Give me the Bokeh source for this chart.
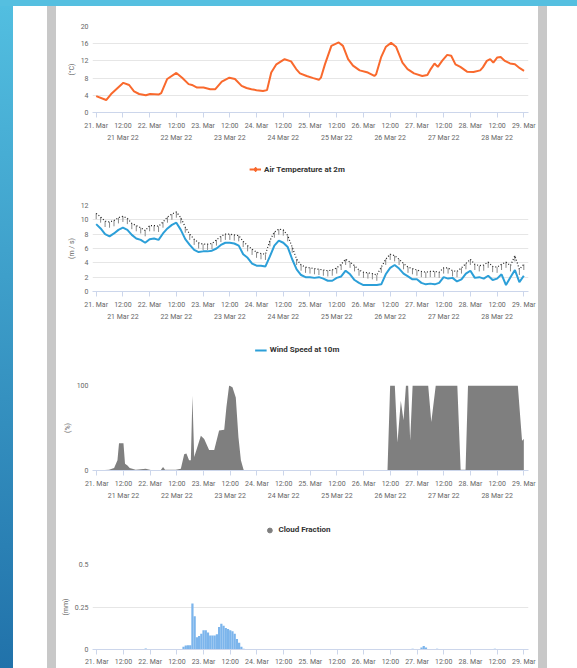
import numpy as np
from bokeh.plotting import figure
from bokeh.models import Range1d, FixedTicker, LinearAxis, Legend, LegendItem, Spacer
from bokeh.layouts import column, row
from bokeh.embed import file_html
from bokeh.resources import INLINE

FONT = "Roboto"
LABEL_COLOR = "#666666"

# ---------------- x axis labels (hours since 21 Mar 2022 00:00) ----------------
tick_hours = list(range(0, 193, 12))
tick_labels = ["21. Mar", "12:00", "22. Mar", "12:00", "23. Mar", "12:00", "24. Mar", "12:00",
               "25. Mar", "12:00", "26. Mar", "12:00", "27. Mar", "12:00", "28. Mar", "12:00", "29. Mar"]
date_hours = [12, 36, 60, 84, 108, 132, 156, 180]
date_labels = ["21 Mar 22", "22 Mar 22", "23 Mar 22", "24 Mar 22",
               "25 Mar 22", "26 Mar 22", "27 Mar 22", "28 Mar 22"]

# ---------------- Air temperature at 2m (°C) ----------------
temp_hours = [0, 4.5, 6.7, 12.2, 14.8, 17, 19.3, 22.3, 24.2, 28.2, 29.2, 31.9, 36, 38.6, 41.5, 43,
              45.3, 48.2, 51.2, 53.4, 56.4, 59.8, 62.3, 65.3, 67.5, 69.7, 72, 74.9, 76.7, 78.6, 80.9,
              84.6, 87.5, 89.8, 91.5, 94.5, 97.5, 100, 100.9, 102.7, 105.6, 108.9, 110.8, 113.1, 115.3,
              118.3, 122, 124.9, 125.7, 127.9, 130.1, 132.4, 134.6, 137.5, 139.8, 142.7, 146.4, 148.7,
              150.2, 151.9, 153.4, 155.3, 157.6, 159.4, 161.3, 163.5, 166.5, 169.4, 172.4, 173.6, 175.4,
              176.9, 178.3, 180.1, 181.6, 183.5, 185.8, 188, 190.2, 192.1]
temp_vals = [3.8, 2.9, 4.3, 6.9, 6.4, 4.9, 4.3, 4.0, 4.3, 4.2, 4.5, 7.8, 9.2, 8.1, 6.6, 6.4,
             5.8, 5.8, 5.4, 5.4, 7.2, 8.1, 7.8, 6.2, 5.7, 5.4, 5.2, 5.0, 5.2, 9.3, 11.2,
             12.4, 11.9, 10.1, 9.1, 8.5, 8.0, 7.6, 8.1, 11.2, 15.5, 16.3, 15.5, 12.4, 10.9,
             9.8, 9.3, 8.5, 8.9, 12.8, 15.3, 16.2, 15.3, 11.6, 10.1, 9.1, 8.5, 8.7,
             10.1, 11.4, 10.6, 12.0, 13.4, 13.2, 11.2, 10.6, 9.5, 9.4, 9.8, 10.5, 12.0,
             12.4, 11.6, 12.8, 12.9, 12.0, 11.4, 11.2, 10.3, 9.7]

# ---------------- Wind speed at 10m and gusts (m/s), every 2 hours ----------------
wind_hours = list(range(0, 193, 2))
wind_vals = [9.4, 8.8, 8.0, 7.7, 8.1, 8.6, 8.9, 8.6, 7.9, 7.4, 7.2, 6.8, 7.3, 7.4, 7.2, 8.1,
             8.8, 9.3, 9.6, 8.6, 7.3, 6.5, 5.8, 5.5, 5.6, 5.6, 5.7, 6.0, 6.5, 6.8, 6.8, 6.7,
             6.4, 5.2, 4.7, 3.9, 3.6, 3.6, 3.5, 4.9, 6.4, 7.1, 6.8, 6.2, 4.5, 3.1, 2.3, 2.0,
             2.0, 1.9, 2.0, 1.8, 1.5, 1.5, 1.9, 2.1, 2.9, 2.4, 1.6, 1.2, 0.9, 0.9, 0.9, 0.9,
             1.0, 2.4, 3.3, 3.7, 3.2, 2.5, 2.1, 1.7, 1.7, 1.2, 1.0, 1.1, 1.0, 1.2, 2.0, 1.8,
             1.9, 1.4, 1.7, 2.5, 2.9, 1.9, 2.0, 1.8, 2.2, 1.6, 1.8, 2.4, 0.9, 2.0, 3.0, 1.3, 2.2]
gust_vals = [10.9, 10.4, 9.8, 9.7, 9.9, 10.3, 10.5, 10.2, 9.5, 9.2, 8.9, 8.5, 9.2, 9.2, 9.1, 9.7,
             10.4, 10.8, 11.1, 10.3, 9.0, 8.0, 7.3, 6.8, 6.6, 6.6, 6.7, 7.2, 7.7, 8.0, 8.0, 7.9,
             7.8, 7.0, 6.4, 5.9, 5.5, 5.3, 5.2, 7.1, 8.3, 8.7, 8.6, 7.8, 6.2, 4.5, 3.7, 3.4,
             3.3, 3.2, 3.1, 3.0, 2.9, 3.0, 3.3, 3.8, 4.5, 4.1, 3.6, 3.0, 2.7, 2.6, 2.5, 2.3,
             3.4, 4.5, 5.2, 5.0, 4.5, 3.9, 3.4, 3.2, 3.0, 2.8, 2.7, 2.8, 2.8, 2.7, 3.3, 3.3,
             2.9, 2.8, 3.3, 3.9, 4.5, 3.8, 3.6, 3.7, 4.1, 3.5, 3.4, 3.8, 4.1, 3.6, 5.0, 3.1, 3.8]

# ---------------- Cloud fraction (%) ----------------
cloud_hours = [0, 5.5, 7.8, 9.3, 10, 12, 12.7, 13.8, 14.8, 17.5, 22, 24.3, 28.8, 29.8, 30.7, 35.5,
               37.8, 39.3, 40.3, 41.5, 42.3, 43, 43.8, 44.8, 46.8, 48.3, 50.5, 52.8, 55, 57.3, 58.3,
               59.5, 61, 62.5, 63.7, 64.8, 66, 67, 130.7, 131.9, 134, 135.2, 136.7, 137.9, 139, 140,
               140.9, 142, 149, 150.4, 152.4, 162.1, 163.6, 165.8, 166.9, 189.3, 191.2, 192]
cloud_vals = [0, 1, 3, 12, 32, 32, 8, 6, 3, 1, 2, 0.5, 0.5, 4, 1, 1,
              2, 19, 20, 12, 12, 88, 16, 24, 41, 37, 24, 24, 47, 48, 75,
              100, 98, 86, 39, 12, 1, 0, 0, 100, 100, 33, 82, 59, 100, 100,
              35, 100, 100, 57, 100, 100, 1, 1, 100, 100, 35, 37]

# ---------------- Precipitation (mm), hourly ----------------
precip_hours = [22, 39, 40, 41, 42, 43, 44, 45, 46, 47, 48, 49, 50, 51, 52, 53, 54, 55, 56, 57, 58,
                59, 60, 61, 62, 63, 64, 65, 66, 142, 146, 147, 148, 153, 179]
precip_vals = [0.006, 0.016, 0.023, 0.025, 0.025, 0.27, 0.195, 0.072, 0.08, 0.093, 0.113, 0.113,
               0.1, 0.082, 0.082, 0.082, 0.09, 0.132, 0.152, 0.14, 0.126, 0.12, 0.113, 0.107,
               0.093, 0.062, 0.039, 0.016, 0.004, 0.004, 0.012, 0.02, 0.012, 0.004, 0.004]

ORANGE = "#f9692d"
BLUE = "#2c9fd8"
GREY = "#7f7f7f"
PRECIP = "#7cb5ec"


def make_fig(height, top, left, bottom, pad_left, yrange, yticks, ytitle, yover=None,
             dates=True, xstand=4):
    p = figure(width=482, height=height, output_backend="svg", toolbar_location=None,
               x_range=Range1d(-pad_left, 194.1), y_range=Range1d(*yrange),
               min_border_top=top, min_border_left=left, min_border_right=10,
               min_border_bottom=bottom,
               background_fill_color="white", border_fill_color="white", outline_line_color=None)
    p.xgrid.visible = False
    p.ygrid.ticker = FixedTicker(ticks=yticks)
    p.ygrid.grid_line_color = "#e6e6e6"
    p.ygrid.grid_line_width = 1

    xa = p.xaxis[0]
    xa.ticker = FixedTicker(ticks=tick_hours)
    xa.major_label_overrides = dict(zip(tick_hours, tick_labels))
    xa.axis_line_color = "#ccd6eb"
    xa.major_tick_line_color = "#ccd6eb"
    xa.major_tick_in = 0
    xa.major_tick_out = 5
    xa.minor_tick_line_color = None
    xa.minor_tick_in = 0
    xa.minor_tick_out = 0
    xa.major_label_standoff = xstand
    xa.major_label_text_font = FONT
    xa.major_label_text_font_size = "7px"
    xa.major_label_text_color = LABEL_COLOR

    if dates:
        xa2 = LinearAxis(ticker=FixedTicker(ticks=date_hours),
                         major_label_overrides=dict(zip(date_hours, date_labels)),
                         axis_line_color=None, major_tick_line_color=None,
                         minor_tick_line_color=None, major_tick_in=0, major_tick_out=0,
                         minor_tick_in=0, minor_tick_out=0,
                         major_label_standoff=1, major_label_text_font=FONT,
                         major_label_text_font_size="7px", major_label_text_color=LABEL_COLOR)
        p.add_layout(xa2, "below")

    ya = p.yaxis[0]
    ya.ticker = FixedTicker(ticks=yticks)
    if yover:
        ya.major_label_overrides = yover
    ya.axis_line_color = None
    ya.major_tick_line_color = None
    ya.minor_tick_line_color = None
    ya.major_tick_in = 0
    ya.major_tick_out = 0
    ya.minor_tick_in = 0
    ya.minor_tick_out = 0
    ya.major_label_standoff = 4
    ya.major_label_text_font = FONT
    ya.major_label_text_font_size = "7px"
    ya.major_label_text_color = LABEL_COLOR
    ya.axis_label = ytitle
    ya.axis_label_text_font = FONT
    ya.axis_label_text_font_size = "7px"
    ya.axis_label_text_font_style = "normal"
    ya.axis_label_text_color = LABEL_COLOR
    ya.axis_label_standoff = 2
    return p


def legend_fig(height, kind, color, label, xs, ys):
    # ranges far from the data, so only the legend entry itself is visible
    q = figure(width=456, height=height, output_backend="svg", toolbar_location=None,
               x_range=Range1d(-1000, -999), y_range=Range1d(-1000, -999), min_border=0,
               outline_line_color=None, background_fill_color="white", border_fill_color="white")
    q.axis.visible = False
    q.grid.visible = False
    rs = []
    if kind in ("line", "linemarker"):
        rs.append(q.line(xs, ys, line_color=color, line_width=2))
    if kind == "linemarker":
        rs.append(q.scatter(xs, ys, marker="diamond", size=8, color=color))
    if kind == "marker":
        rs.append(q.scatter(xs, ys, marker="circle", size=8, color=color))
    lg = Legend(items=[LegendItem(label=label, renderers=rs)], location="center",
                orientation="horizontal", margin=0, padding=0,
                border_line_color=None, background_fill_alpha=0,
                label_text_font=FONT, label_text_font_size="8px", label_text_font_style="bold",
                label_text_color="#333333", glyph_width=12, glyph_height=14, label_height=14,
                label_standoff=3, spacing=0)
    q.add_layout(lg)
    return q


# ---- chart 1: temperature ----
p1 = make_fig(139, 20, 32, 33, 1.65, (0, 20), [0, 4, 8, 12, 16, 20], "(°C)")
p1.line(temp_hours, temp_vals, line_color=ORANGE, line_width=2)
l1 = legend_fig(48, "linemarker", ORANGE, "Air Temperature at 2m", temp_hours, temp_vals)

# ---- chart 2: wind ----
p2 = make_fig(131, 12, 32, 33, 1.65, (0, 12), [0, 2, 4, 6, 8, 10, 12], "(m / s)")
p2.segment(x0=wind_hours, y0=gust_vals, x1=wind_hours, y1=[g - 0.8 for g in gust_vals],
           line_color="#8a8a8a", line_width=1)
p2.line(wind_hours, gust_vals, line_color="#222222", line_width=1.2, line_dash="1 2")
p2.line(wind_hours, wind_vals, line_color=BLUE, line_width=2)
l2 = legend_fig(51, "line", BLUE, "Wind Speed at 10m", wind_hours, wind_vals)

# ---- chart 3: cloud fraction ----
p3 = make_fig(128, 10, 34, 33, 1.92, (0, 100), [0, 100], "(%)")
p3.varea(x=cloud_hours, y1=[0] * len(cloud_hours), y2=cloud_vals, fill_color=GREY)
l3 = legend_fig(53, "marker", GREY, "Cloud Fraction", cloud_hours, cloud_vals)

# ---- chart 4: precipitation ----
p4 = make_fig(112, 8, 36, 19, 1.93, (0, 0.5), [0, 0.25, 0.5], "(mm)",
              yover={0: "0", 0.25: "0.25", 0.5: "0.5"}, dates=False, xstand=3)
p4.vbar(x=precip_hours, top=precip_vals, width=1.0, fill_color=PRECIP, line_color=None)

charts = column(p1, l1, p2, l2, p3, l3, p4, spacing=0)
body = row(
    Spacer(width=13, height=662, styles={"background": "linear-gradient(#52bee0, #2172aa)"}),
    Spacer(width=34, height=662),
    Spacer(width=9, height=662, styles={"background": "#c8c8c8"}),
    charts,
    Spacer(width=9, height=662, styles={"background": "#c8c8c8"}),
    spacing=0,
)
layout = column(Spacer(width=577, height=6, styles={"background": "#55bfe0"}), body, spacing=0)

open("out.html", "w").write(file_html(layout, INLINE))
